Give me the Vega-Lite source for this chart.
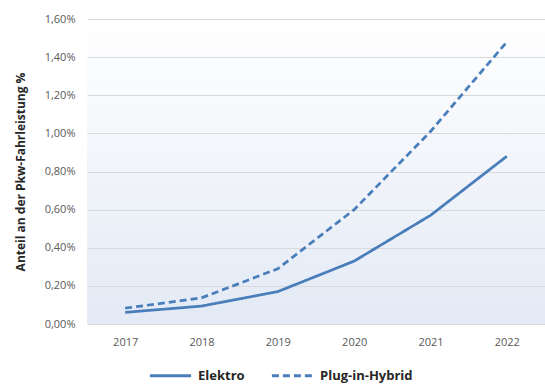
{
  "$schema": "https://vega.github.io/schema/vega-lite/v6.json",
  "autosize": "none",
  "width": 458,
  "height": 305,
  "padding": {"left": 87, "top": 19, "right": 0, "bottom": 61},
  "background": "white",
  "config": {
    "view": {"stroke": null, "fill": {"gradient": "linear", "x1": 0, "y1": 0, "x2": 0, "y2": 1, "stops": [{"offset": 0, "color": "#ffffff"}, {"offset": 1, "color": "#e3eaf5"}]}},
    "font": "Open Sans"
  },
  "data": {"values": [
    {"Jahr": "2017", "Typ": "Elektro", "Anteil": 0.00061},
    {"Jahr": "2018", "Typ": "Elektro", "Anteil": 0.00094},
    {"Jahr": "2019", "Typ": "Elektro", "Anteil": 0.0017},
    {"Jahr": "2020", "Typ": "Elektro", "Anteil": 0.0033},
    {"Jahr": "2021", "Typ": "Elektro", "Anteil": 0.0057},
    {"Jahr": "2022", "Typ": "Elektro", "Anteil": 0.0088},
    {"Jahr": "2017", "Typ": "Plug-in-Hybrid", "Anteil": 0.00083},
    {"Jahr": "2018", "Typ": "Plug-in-Hybrid", "Anteil": 0.00137},
    {"Jahr": "2019", "Typ": "Plug-in-Hybrid", "Anteil": 0.0029},
    {"Jahr": "2020", "Typ": "Plug-in-Hybrid", "Anteil": 0.0060},
    {"Jahr": "2021", "Typ": "Plug-in-Hybrid", "Anteil": 0.0101},
    {"Jahr": "2022", "Typ": "Plug-in-Hybrid", "Anteil": 0.0148}
  ]},
  "mark": {"type": "line", "strokeWidth": 2.75, "color": "#4a7ebb", "strokeCap": "butt"},
  "encoding": {
    "x": {"field": "Jahr", "type": "ordinal", "scale": {"type": "point", "padding": 0.5},
      "axis": {"title": null, "labelAngle": 0, "domain": false, "ticks": false, "grid": false, "labelColor": "#595959", "labelFontSize": 11, "labelPadding": 12}},
    "y": {"field": "Anteil", "type": "quantitative", "scale": {"domain": [0, 0.016], "nice": false},
      "axis": {"title": "Anteil an der Pkw-Fahrleistung %", "titleFontSize": 12, "titleFontWeight": "bold", "titleColor": "#262626", "titlePadding": 17,
        "values": [0, 0.002, 0.004, 0.006, 0.008, 0.01, 0.012, 0.014, 0.016],
        "labelExpr": "replace(format(datum.value, '.2%'), '.', ',')",
        "domain": false, "ticks": false, "labelColor": "#595959", "labelFontSize": 11, "labelPadding": 12, "gridColor": "#d9d9d9", "gridWidth": 1.2}},
    "strokeDash": {"field": "Typ", "type": "nominal",
      "scale": {"domain": ["Elektro", "Plug-in-Hybrid"], "range": [[1, 0], [7, 4]]},
      "legend": {"orient": "none", "legendX": 61, "legendY": 334, "direction": "horizontal", "title": null, "labelFontSize": 13, "labelFontWeight": "bold", "labelColor": "#262626", "labelOffset": 5, "symbolType": "stroke", "symbolSize": 1700, "symbolStrokeWidth": 3, "symbolStrokeColor": "#4a7ebb", "columnPadding": 20}}
  }
}
